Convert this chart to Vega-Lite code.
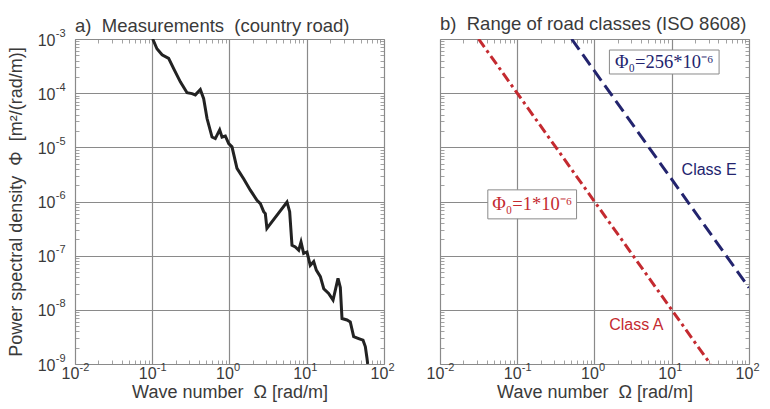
{
  "$schema": "https://vega.github.io/schema/vega-lite/v6.json",
  "background": "white",
  "padding": {"left": 6, "top": 14, "right": 5, "bottom": 5},
  "bounds": "flush",
  "spacing": 56,
  "datasets": {
    "measured": [
      {"omega": 0.1014, "phi": 1.0e-3},
      {"omega": 0.115, "phi": 6.6e-4},
      {"omega": 0.134, "phi": 5.1e-4},
      {"omega": 0.163, "phi": 4.4e-4},
      {"omega": 0.190, "phi": 2.8e-4},
      {"omega": 0.231, "phi": 1.62e-4},
      {"omega": 0.282, "phi": 1.02e-4},
      {"omega": 0.327, "phi": 9.8e-5},
      {"omega": 0.361, "phi": 9.3e-5},
      {"omega": 0.419, "phi": 1.17e-4},
      {"omega": 0.463, "phi": 7.9e-5},
      {"omega": 0.512, "phi": 3.4e-5},
      {"omega": 0.594, "phi": 1.55e-5},
      {"omega": 0.655, "phi": 1.45e-5},
      {"omega": 0.746, "phi": 2.1e-5},
      {"omega": 0.80, "phi": 1.55e-5},
      {"omega": 0.883, "phi": 1.62e-5},
      {"omega": 0.977, "phi": 1.17e-5},
      {"omega": 1.077, "phi": 1.02e-5},
      {"omega": 1.25, "phi": 4.1e-6},
      {"omega": 1.53, "phi": 2.6e-6},
      {"omega": 1.86, "phi": 1.62e-6},
      {"omega": 2.27, "phi": 1.05e-6},
      {"omega": 2.51, "phi": 9.1e-7},
      {"omega": 2.77, "phi": 6.5e-7},
      {"omega": 2.91, "phi": 6.0e-7},
      {"omega": 3.05, "phi": 3.2e-7},
      {"omega": 5.55, "phi": 9.8e-7},
      {"omega": 6.01, "phi": 6.5e-7},
      {"omega": 6.44, "phi": 1.55e-7},
      {"omega": 7.11, "phi": 1.45e-7},
      {"omega": 7.87, "phi": 1.26e-7},
      {"omega": 8.43, "phi": 1.78e-7},
      {"omega": 9.12, "phi": 1.10e-7},
      {"omega": 10.07, "phi": 1.17e-7},
      {"omega": 11.1, "phi": 6.6e-8},
      {"omega": 12.3, "phi": 7.8e-8},
      {"omega": 13.3, "phi": 5.4e-8},
      {"omega": 15.0, "phi": 4.1e-8},
      {"omega": 16.6, "phi": 2.45e-8},
      {"omega": 19.2, "phi": 2.0e-8},
      {"omega": 21.9, "phi": 1.51e-8},
      {"omega": 25.4, "phi": 3.8e-8},
      {"omega": 27.2, "phi": 2.6e-8},
      {"omega": 28.6, "phi": 6.9e-9},
      {"omega": 33.2, "phi": 6.5e-9},
      {"omega": 36.6, "phi": 6.0e-9},
      {"omega": 40.5, "phi": 3.2e-9},
      {"omega": 47.0, "phi": 2.95e-9},
      {"omega": 53.5, "phi": 2.75e-9},
      {"omega": 57.3, "phi": 2.1e-9},
      {"omega": 60.3, "phi": 1.26e-9},
      {"omega": 61.5, "phi": 1.0e-9}
    ],
    "classes": [
      {"cls": "A", "omega": 0.0316, "phi": 1e-3},
      {"cls": "A", "omega": 31.6, "phi": 1e-9},
      {"cls": "E", "omega": 0.506, "phi": 1e-3},
      {"cls": "E", "omega": 100, "phi": 2.56e-8}
    ],
    "boxes": [
      {"cls": "E", "omega": 1.56, "omega2": 41.0, "phi": 6.26e-4, "phi2": 2.26e-4, "tomega": 8.0, "tphi": 3.77e-4, "label": "Φ₀=256*10⁻⁶"},
      {"cls": "A", "omega": 0.0416, "omega2": 0.586, "phi": 1.64e-6, "phi2": 4.78e-7, "tomega": 0.156, "tphi": 8.85e-7, "label": "Φ₀=1*10⁻⁶"}
    ],
    "names": [
      {"cls": "E", "omega": 30.5, "phi": 3.83e-6, "label": "Class E"},
      {"cls": "A", "omega": 3.48, "phi": 5.28e-9, "label": "Class A"}
    ]
  },
  "config": {
    "view": {"stroke": "#9a9a9a", "strokeWidth": 1},
    "axis": {
      "labelFont": "Liberation Sans", "labelFontSize": 16, "labelColor": "#3a3a3a",
      "titleFont": "Liberation Sans", "titleFontSize": 18, "titleFontWeight": "normal", "titleColor": "#3a3a3a",
      "domain": false, "gridColor": "#8a8a8a", "gridWidth": 1.2, "tickColor": "#8a8a8a", "tickWidth": 0.8,
      "labelOverlap": false, "labelFlush": false
    },
    "title": {"font": "Liberation Sans", "fontSize": 18.5, "fontWeight": "normal", "color": "#3a3a3a", "anchor": "start", "frame": "group"}
  },
  "hconcat": [
    {
      "width": 309, "height": 325,
      "title": {"text": "a)\u00a0 Measurements\u00a0 (country road)", "offset": -8},
      "data": {"name": "measured"},
      "resolve": {"axis": {"x": "independent", "y": "independent"}},
      "layer": [
        {
          "mark": {"type": "line", "color": "#222222", "strokeWidth": 3, "clip": true},
          "encoding": {
            "x": {"field": "omega", "type": "quantitative",
              "scale": {"type": "log", "domain": [0.01, 100]},
              "axis": {
                "orient": "bottom", "title": "Wave number\u00a0 Ω [rad/m]", "titlePadding": 2,
                "values": [0.01,0.02,0.03,0.04,0.05,0.06,0.07,0.08,0.09,0.1,0.2,0.3,0.4,0.5,0.6,0.7,0.8,0.9,1,2,3,4,5,6,7,8,9,10,20,30,40,50,60,70,80,90,100],
                "labelExpr": "abs(log(datum.value)/LN10 - round(log(datum.value)/LN10)) < 0.01 ? '10' : ''",
                "labelOffset": -5, "labelPadding": 1,
                "gridOpacity": {"condition": {"test": "abs(log(datum.value)/LN10 - round(log(datum.value)/LN10)) < 0.01", "value": 1}, "value": 0},
                "tickSize": {"condition": {"test": "abs(log(datum.value)/LN10 - round(log(datum.value)/LN10)) < 0.01", "value": 0}, "value": -4}
              }
            },
            "y": {"field": "phi", "type": "quantitative",
              "scale": {"type": "log", "domain": [1e-9, 1e-3]},
              "axis": {
                "orient": "left", "title": "Power spectral density\u00a0 Φ\u00a0 [m²/(rad/m)]", "titlePadding": 12,
                "values": [1e-9,2e-9,3e-9,4e-9,5e-9,6e-9,7e-9,8e-9,9e-9,1e-8,2e-8,3e-8,4e-8,5e-8,6e-8,7e-8,8e-8,9e-8,1e-7,2e-7,3e-7,4e-7,5e-7,6e-7,7e-7,8e-7,9e-7,1e-6,2e-6,3e-6,4e-6,5e-6,6e-6,7e-6,8e-6,9e-6,1e-5,2e-5,3e-5,4e-5,5e-5,6e-5,7e-5,8e-5,9e-5,1e-4,2e-4,3e-4,4e-4,5e-4,6e-4,7e-4,8e-4,9e-4,1e-3],
                "labelExpr": "abs(log(datum.value)/LN10 - round(log(datum.value)/LN10)) < 0.01 ? '10' : ''",
                "labelPadding": 20, "labelOffset": 1,
                "gridOpacity": {"condition": {"test": "abs(log(datum.value)/LN10 - round(log(datum.value)/LN10)) < 0.01", "value": 1}, "value": 0},
                "tickSize": {"condition": {"test": "abs(log(datum.value)/LN10 - round(log(datum.value)/LN10)) < 0.01", "value": 0}, "value": -4}
              }
            }
          }
        },
        {
          "mark": {"type": "line", "strokeOpacity": 0},
          "encoding": {
            "x": {"field": "omega", "type": "quantitative",
              "axis": {"orient": "bottom", "title": null, "grid": false, "ticks": false,
                "values": [0.01, 0.1, 1, 10, 100],
                "labelExpr": "'' + round(log(datum.value)/LN10)",
                "labelFontSize": 11, "labelAlign": "left", "labelOffset": 4, "labelPadding": -3}
            },
            "y": {"field": "phi", "type": "quantitative",
              "axis": {"orient": "left", "title": null, "grid": false, "ticks": false,
                "values": [1e-9, 1e-8, 1e-7, 1e-6, 1e-5, 1e-4, 1e-3],
                "labelExpr": "'' + round(log(datum.value)/LN10)",
                "labelFontSize": 11, "labelAlign": "right", "labelOffset": -6, "labelPadding": 10}
            }
          }
        },
        {
          "mark": {"type": "line", "strokeOpacity": 0},
          "encoding": {
            "x": {"field": "omega", "type": "quantitative",
              "axis": {"orient": "top", "title": null, "grid": false, "labels": false,
                "values": [0.02,0.03,0.04,0.05,0.06,0.07,0.08,0.09,0.2,0.3,0.4,0.5,0.6,0.7,0.8,0.9,2,3,4,5,6,7,8,9,20,30,40,50,60,70,80,90],
                "tickSize": -4}
            },
            "y": {"field": "phi", "type": "quantitative",
              "axis": {"orient": "right", "title": null, "grid": false, "labels": false,
                "values": [2e-9,3e-9,4e-9,5e-9,6e-9,7e-9,8e-9,9e-9,2e-8,3e-8,4e-8,5e-8,6e-8,7e-8,8e-8,9e-8,2e-7,3e-7,4e-7,5e-7,6e-7,7e-7,8e-7,9e-7,2e-6,3e-6,4e-6,5e-6,6e-6,7e-6,8e-6,9e-6,2e-5,3e-5,4e-5,5e-5,6e-5,7e-5,8e-5,9e-5,2e-4,3e-4,4e-4,5e-4,6e-4,7e-4,8e-4,9e-4],
                "tickSize": -4}
            }
          }
        }
      ]
    },
    {
      "width": 309, "height": 325,
      "title": {"text": "b)\u00a0 Range of road classes (ISO 8608)", "offset": 5},
      "resolve": {"axis": {"x": "independent", "y": "independent"}},
      "layer": [
        {
          "data": {"name": "classes"},
          "transform": [{"filter": "datum.cls == 'A'"}],
          "mark": {"type": "line", "color": "#c42a30", "strokeWidth": 3, "strokeDash": [10, 4, 3, 4], "clip": true},
          "encoding": {
            "x": {"field": "omega", "type": "quantitative",
              "scale": {"type": "log", "domain": [0.01, 100]},
              "axis": {
                "orient": "bottom", "title": "Wave number\u00a0 Ω [rad/m]", "titlePadding": 2,
                "values": [0.01,0.02,0.03,0.04,0.05,0.06,0.07,0.08,0.09,0.1,0.2,0.3,0.4,0.5,0.6,0.7,0.8,0.9,1,2,3,4,5,6,7,8,9,10,20,30,40,50,60,70,80,90,100],
                "labelExpr": "abs(log(datum.value)/LN10 - round(log(datum.value)/LN10)) < 0.01 ? '10' : ''",
                "labelOffset": -5, "labelPadding": 1,
                "gridOpacity": {"condition": {"test": "abs(log(datum.value)/LN10 - round(log(datum.value)/LN10)) < 0.01", "value": 1}, "value": 0},
                "tickSize": {"condition": {"test": "abs(log(datum.value)/LN10 - round(log(datum.value)/LN10)) < 0.01", "value": 0}, "value": -4}
              }
            },
            "y": {"field": "phi", "type": "quantitative",
              "scale": {"type": "log", "domain": [1e-9, 1e-3]},
              "axis": {
                "orient": "left", "title": null, "labels": false,
                "values": [1e-9,2e-9,3e-9,4e-9,5e-9,6e-9,7e-9,8e-9,9e-9,1e-8,2e-8,3e-8,4e-8,5e-8,6e-8,7e-8,8e-8,9e-8,1e-7,2e-7,3e-7,4e-7,5e-7,6e-7,7e-7,8e-7,9e-7,1e-6,2e-6,3e-6,4e-6,5e-6,6e-6,7e-6,8e-6,9e-6,1e-5,2e-5,3e-5,4e-5,5e-5,6e-5,7e-5,8e-5,9e-5,1e-4,2e-4,3e-4,4e-4,5e-4,6e-4,7e-4,8e-4,9e-4,1e-3],
                "gridOpacity": {"condition": {"test": "abs(log(datum.value)/LN10 - round(log(datum.value)/LN10)) < 0.01", "value": 1}, "value": 0},
                "tickSize": {"condition": {"test": "abs(log(datum.value)/LN10 - round(log(datum.value)/LN10)) < 0.01", "value": 0}, "value": -4}
              }
            }
          }
        },
        {
          "data": {"name": "classes"},
          "transform": [{"filter": "datum.cls == 'E'"}],
          "mark": {"type": "line", "color": "#23246e", "strokeWidth": 3, "strokeDash": [13, 6], "clip": true},
          "encoding": {
            "x": {"field": "omega", "type": "quantitative", "axis": null},
            "y": {"field": "phi", "type": "quantitative", "axis": null}
          }
        },
        {
          "data": {"name": "classes"},
          "mark": {"type": "line", "strokeOpacity": 0},
          "encoding": {
            "detail": {"field": "cls"},
            "x": {"field": "omega", "type": "quantitative",
              "axis": {"orient": "bottom", "title": null, "grid": false, "ticks": false,
                "values": [0.01, 0.1, 1, 10, 100],
                "labelExpr": "'' + round(log(datum.value)/LN10)",
                "labelFontSize": 11, "labelAlign": "left", "labelOffset": 4, "labelPadding": -3}
            },
            "y": {"field": "phi", "type": "quantitative", "axis": null}
          }
        },
        {
          "data": {"name": "classes"},
          "mark": {"type": "line", "strokeOpacity": 0},
          "encoding": {
            "detail": {"field": "cls"},
            "x": {"field": "omega", "type": "quantitative",
              "axis": {"orient": "top", "title": null, "grid": false, "labels": false,
                "values": [0.02,0.03,0.04,0.05,0.06,0.07,0.08,0.09,0.2,0.3,0.4,0.5,0.6,0.7,0.8,0.9,2,3,4,5,6,7,8,9,20,30,40,50,60,70,80,90],
                "tickSize": -4}
            },
            "y": {"field": "phi", "type": "quantitative",
              "axis": {"orient": "right", "title": null, "grid": false, "labels": false,
                "values": [2e-9,3e-9,4e-9,5e-9,6e-9,7e-9,8e-9,9e-9,2e-8,3e-8,4e-8,5e-8,6e-8,7e-8,8e-8,9e-8,2e-7,3e-7,4e-7,5e-7,6e-7,7e-7,8e-7,9e-7,2e-6,3e-6,4e-6,5e-6,6e-6,7e-6,8e-6,9e-6,2e-5,3e-5,4e-5,5e-5,6e-5,7e-5,8e-5,9e-5,2e-4,3e-4,4e-4,5e-4,6e-4,7e-4,8e-4,9e-4],
                "tickSize": -4}
            }
          }
        },
        {
          "data": {"name": "boxes"},
          "mark": {"type": "rect", "fill": "white", "stroke": "#8a8a8a", "strokeWidth": 1},
          "encoding": {
            "x": {"field": "omega", "type": "quantitative", "axis": null},
            "x2": {"field": "omega2"},
            "y": {"field": "phi", "type": "quantitative", "axis": null},
            "y2": {"field": "phi2"}
          }
        },
        {
          "data": {"name": "boxes"},
          "mark": {"type": "text", "font": "Liberation Serif", "fontSize": 18.5, "align": "center", "baseline": "middle"},
          "encoding": {
            "x": {"field": "tomega", "type": "quantitative", "axis": null},
            "y": {"field": "tphi", "type": "quantitative", "axis": null},
            "text": {"field": "label"},
            "color": {"field": "cls", "type": "nominal", "scale": {"domain": ["A", "E"], "range": ["#c42a30", "#23246e"]}, "legend": null}
          }
        },
        {
          "data": {"name": "names"},
          "mark": {"type": "text", "font": "Liberation Sans", "fontSize": 16, "align": "center", "baseline": "middle"},
          "encoding": {
            "x": {"field": "omega", "type": "quantitative", "axis": null},
            "y": {"field": "phi", "type": "quantitative", "axis": null},
            "text": {"field": "label"},
            "color": {"field": "cls", "type": "nominal", "scale": {"domain": ["A", "E"], "range": ["#c42a30", "#23246e"]}, "legend": null}
          }
        }
      ]
    }
  ]
}
